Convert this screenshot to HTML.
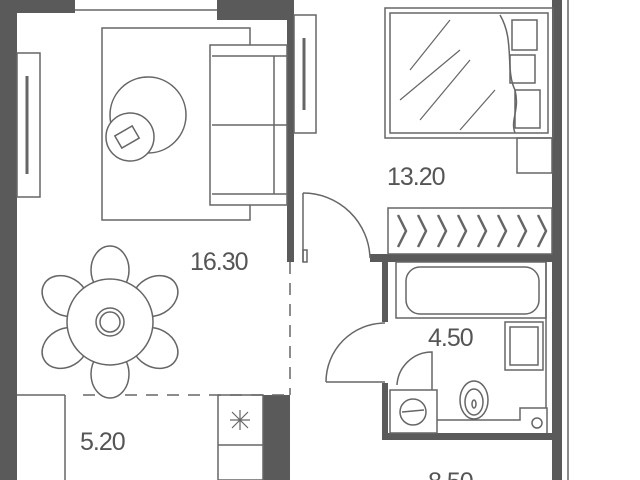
<!DOCTYPE html>
<html><head><style>body{margin:0;background:#fff}svg{display:block}</style></head><body>
<svg width="640" height="480" viewBox="0 0 640 480" xmlns="http://www.w3.org/2000/svg" font-family="Liberation Sans, sans-serif">
<g fill="#5a5a5a">
<rect x="0" y="0" width="17" height="480"/>
<rect x="0" y="0" width="75" height="13"/>
<rect x="217" y="0" width="76" height="20"/>
<rect x="287" y="0" width="7" height="262"/>
<rect x="552" y="0" width="10" height="480"/>
<rect x="370" y="254" width="192" height="8"/>
<rect x="382" y="262" width="6" height="60"/>
<rect x="382" y="383" width="6" height="57"/>
<rect x="382" y="433" width="180" height="7"/>
<rect x="263" y="395" width="27" height="85"/>
</g>
<g fill="none" stroke="#666" stroke-width="1.5">
<line x1="75" y1="10" x2="217" y2="10"/>
<rect x="17" y="53" width="23" height="144"/>
<line x1="27" y1="76" x2="27" y2="174" stroke-width="3"/>
<rect x="294" y="15" width="22" height="118"/>
<line x1="304" y1="38" x2="304" y2="110" stroke-width="3"/>
<rect x="102" y="28" width="148" height="192"/>
<rect x="210" y="45" width="77" height="160" fill="#fff"/>
<line x1="212" y1="56" x2="287" y2="56"/><line x1="212" y1="194" x2="287" y2="194"/>
<line x1="212" y1="125" x2="287" y2="125"/><line x1="274" y1="56" x2="274" y2="194"/>
<circle cx="148" cy="115" r="38" fill="#fff"/>
<circle cx="130" cy="137" r="24" fill="#fff"/>
<rect x="117" y="130" width="20" height="14" transform="rotate(-30 127 137)"/>
<line x1="303" y1="193" x2="303" y2="262"/>
<path d="M303 193 A67 67 0 0 1 370 258"/>
<rect x="303" y="250" width="4" height="12"/>
<line x1="290" y1="262" x2="290" y2="395" stroke-dasharray="12 9"/>
<line x1="83" y1="395" x2="290" y2="395" stroke-dasharray="12 9"/>
<line x1="17" y1="395" x2="65" y2="395"/>
<line x1="65" y1="395" x2="65" y2="480"/>
<rect x="218" y="395" width="45" height="85"/>
<line x1="218" y1="445" x2="263" y2="445"/>
<path d="M232 412 L248 428 M248 412 L232 428 M240 410 L240 430 M230 420 L250 420" stroke-width="1.2"/>
<g fill="#fff">
<ellipse cx="110" cy="270" rx="19" ry="24"/>
<ellipse cx="110" cy="374" rx="19" ry="24"/>
<ellipse cx="65" cy="296" rx="19" ry="24" transform="rotate(-60 65 296)"/>
<ellipse cx="155" cy="296" rx="19" ry="24" transform="rotate(60 155 296)"/>
<ellipse cx="65" cy="348" rx="19" ry="24" transform="rotate(60 65 348)"/>
<ellipse cx="155" cy="348" rx="19" ry="24" transform="rotate(-60 155 348)"/>
<circle cx="110" cy="322" r="43"/>
</g>
<circle cx="110" cy="322" r="14"/><circle cx="110" cy="322" r="10"/>
<rect x="385" y="8" width="168" height="130"/>
<rect x="390" y="13" width="158" height="120"/>
<path d="M500 15 C515 40,505 70,515 90 C520 110,510 120,515 133"/>
<path d="M410 70 L450 20 M400 100 L460 50 M420 120 L470 60 M460 130 L495 90" stroke-width="1.2"/>
<rect x="512" y="20" width="25" height="30"/><rect x="510" y="55" width="25" height="28"/><rect x="515" y="90" width="25" height="38"/>
<rect x="517" y="138" width="35" height="35"/>
<rect x="388" y="208" width="164" height="46"/>
<path d="M398 215 L406 231 L398 247 M418 215 L426 231 L418 247 M438 215 L446 231 L438 247 M458 215 L466 231 L458 247 M478 215 L486 231 L478 247 M498 215 L506 231 L498 247 M518 215 L526 231 L518 247 M538 215 L546 231 L538 247" stroke-width="2.5"/>
<rect x="396" y="262" width="150" height="56"/>
<rect x="406" y="267" width="133" height="47" rx="14"/>
<rect x="505" y="322" width="38" height="48"/><rect x="510" y="327" width="28" height="38"/>
<line x1="326" y1="382" x2="385" y2="382"/>
<path d="M326 382 A59 59 0 0 1 385 323"/>
<path d="M397 385 A35 35 0 0 1 432 352 L432 390"/>
<rect x="390" y="390" width="47" height="43"/>
<circle cx="413" cy="412" r="13"/><line x1="402" y1="412" x2="424" y2="410"/>
<path d="M437 420 L520 420 L520 408 L547 408 L547 433"/>
<line x1="546" y1="262" x2="546" y2="408"/>
<ellipse cx="474" cy="400" rx="14" ry="19"/><ellipse cx="474" cy="402" rx="9" ry="13"/><ellipse cx="474" cy="404" rx="2" ry="4"/>
<circle cx="537" cy="423" r="5"/>
<line x1="568" y1="0" x2="568" y2="480"/>
</g>
<g fill="#555" font-size="25" letter-spacing="-1">
<text x="190" y="270">16.30</text>
<text x="387" y="185">13.20</text>
<text x="428" y="346">4.50</text>
<text x="80" y="450">5.20</text>
<text x="428" y="490">8.50</text>
</g>
</svg>
</body></html>
